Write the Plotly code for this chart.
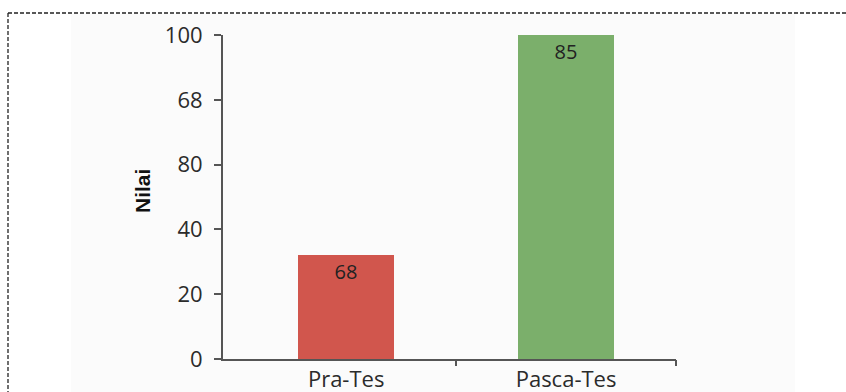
import numpy as np
import plotly.graph_objects as go

# Data
categories = ["Pra-Tes", "Pasca-Tes"]
scores = [68, 85]
bar_colors = ["#d1564d", "#7baf6b"]
y_tick_labels = ["0", "20", "40", "80", "68", "100"]

# Figure geometry (pixels)
W, H = 846, 392
M_L, M_R, M_T, M_B = 223, 170, 35, 33
PW, PH = W - M_L - M_R, H - M_T - M_B

# Truncated value axis
y_range = [60, 85]
y_tick_pos = np.linspace(y_range[0], y_range[1], len(y_tick_labels))
x_range = [-0.56, 1.5]


def px_to_paper_x(px):
    return (px - M_L) / PW


def px_to_paper_y(py):
    return (H - M_B - py) / PH


axis_col = "#555555"
text_col = "#2b2b2b"
font_family = "Open Sans, Liberation Sans, sans-serif"

fig = go.Figure()
fig.add_trace(go.Bar(
    x=categories,
    y=scores,
    marker=dict(color=bar_colors, line=dict(width=0)),
    width=0.437,
    text=[str(v) for v in scores],
    textposition="inside",
    insidetextanchor="end",
    textfont=dict(size=20, color="#222222", family=font_family),
    cliponaxis=True,
    hoverinfo="x+y",
))
# carrier for the boundary tick marks on the overlay axis
fig.add_trace(go.Scatter(
    x=[0.5, 1.5], y=[y_range[0], y_range[0]], xaxis="x2",
    mode="markers", marker=dict(opacity=0), showlegend=False, hoverinfo="skip",
))

fig.update_layout(
    width=W, height=H,
    margin=dict(l=M_L, r=M_R, t=M_T, b=M_B, pad=0, autoexpand=False),
    paper_bgcolor="#ffffff",
    plot_bgcolor="rgba(0,0,0,0)",
    showlegend=False,
    bargap=0,
    font=dict(family=font_family, color=text_col),
    xaxis=dict(
        type="category",
        range=x_range, automargin=False,
        showline=True, linecolor=axis_col, linewidth=2,
        ticks="", showgrid=False, zeroline=False,
        tickfont=dict(size=22, color=text_col),
        ticklabelstandoff=0,
    ),
    xaxis2=dict(
        type="linear",
        overlaying="x", anchor="y", side="bottom",
        range=x_range, automargin=False,
        tickvals=[0.5, 1.5],
        ticks="outside", ticklen=6, tickwidth=2, tickcolor=axis_col,
        showticklabels=False, showgrid=False, zeroline=False, showline=False,
    ),
    yaxis=dict(
        range=y_range, automargin=False,
        tickvals=y_tick_pos,
        ticktext=y_tick_labels,
        showline=True, linecolor=axis_col, linewidth=2,
        ticks="outside", ticklen=7, tickwidth=2, tickcolor=axis_col,
        showgrid=False, zeroline=False,
        tickfont=dict(size=22, color=text_col),
        ticklabelstandoff=7,
    ),
    annotations=[dict(
        text="<b>Nilai</b>", textangle=-90,
        xref="paper", yref="paper",
        x=px_to_paper_x(142), y=px_to_paper_y(191),
        xanchor="center", yanchor="middle", showarrow=False,
        font=dict(size=21, color="#111111", family="Liberation Sans, Arial, sans-serif"),
    )],
    shapes=[
        # faint panel behind the chart
        dict(type="rect", xref="paper", yref="paper", layer="below",
             x0=px_to_paper_x(71), x1=px_to_paper_x(795),
             y0=px_to_paper_y(H), y1=px_to_paper_y(14),
             fillcolor="#fbfbfb", line=dict(width=0)),
        # dashed frame (left and top edges)
        dict(type="line", xref="paper", yref="paper",
             x0=px_to_paper_x(8), x1=px_to_paper_x(8),
             y0=px_to_paper_y(13), y1=px_to_paper_y(H),
             line=dict(color="#222222", width=1.3, dash="4px,2px")),
        dict(type="line", xref="paper", yref="paper",
             x0=px_to_paper_x(8), x1=px_to_paper_x(W),
             y0=px_to_paper_y(13), y1=px_to_paper_y(13),
             line=dict(color="#222222", width=1.3, dash="4px,2px")),
    ],
)

fig.write_html("out.html")
